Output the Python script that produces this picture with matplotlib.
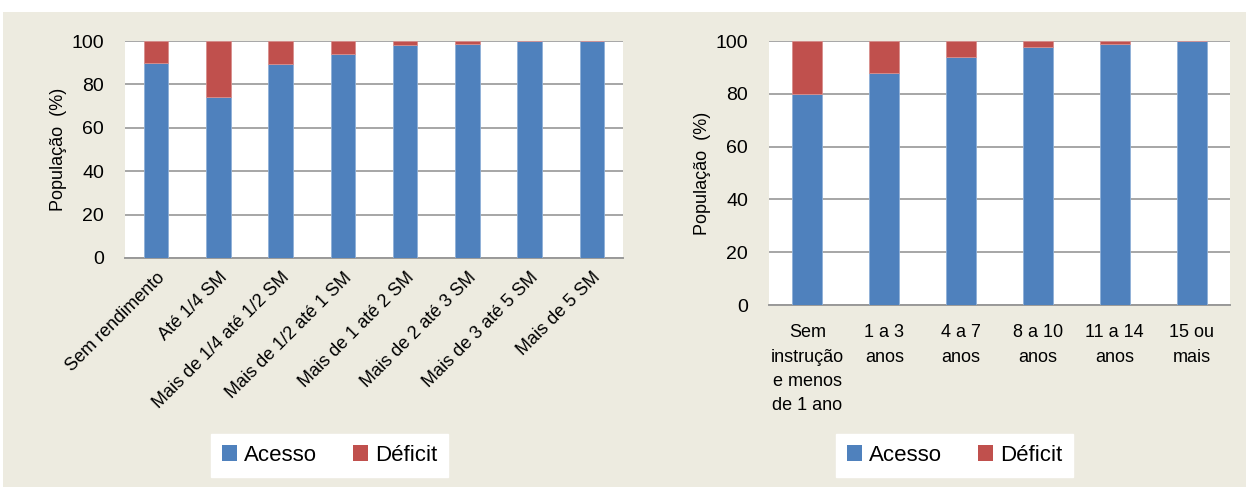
import numpy as np
import matplotlib
matplotlib.use('Agg')
import matplotlib.pyplot as plt
from matplotlib.patches import Rectangle, Patch

# left panel: income classes
renda_labels = ['Sem rendimento', 'Até 1/4 SM', 'Mais de 1/4 até 1/2 SM',
                'Mais de 1/2 até 1 SM', 'Mais de 1 até 2 SM', 'Mais de 2 até 3 SM',
                'Mais de 3 até 5 SM', 'Mais de 5 SM']
renda_acesso = [89.8, 74.0, 89.2, 94.0, 98.0, 98.8, 99.9, 100.0]

# right panel: years of schooling
estudo_labels = ['Sem\ninstrução\ne menos\nde 1 ano', '1 a 3\nanos', '4 a 7\nanos',
                 '8 a 10\nanos', '11 a 14\nanos', '15 ou\nmais']
estudo_acesso = [80.0, 87.8, 93.9, 97.8, 98.9, 99.9]

yticks = [0, 20, 40, 60, 80, 100]

BLUE = '#4F81BD'
RED = '#C0504D'
BG = '#EDEBE0'
FONT = ['Liberation Sans', 'DejaVu Sans']

fig = plt.figure(figsize=(12.46, 4.87), dpi=100)
fig.patches.append(Rectangle((3 / 1246, 0), 1, (487 - 12) / 487,
                             transform=fig.transFigure, facecolor=BG,
                             edgecolor='none', zorder=-10))


def stacked(ax, labels, acesso):
    acesso = np.array(acesso)
    deficit = 100 - acesso
    x = np.arange(len(labels))
    ax.bar(x, acesso, width=0.39, color=BLUE, edgecolor='#8FB0D8', linewidth=0.6,
           zorder=3)
    ax.bar(x, deficit, bottom=acesso, width=0.39, color=RED, edgecolor='#D88F8D',
           linewidth=0.6, zorder=3)
    ax.set_xlim(-0.5, len(labels) - 0.5)
    ax.set_ylim(0, 100)
    ax.set_yticks(yticks)
    ax.set_yticklabels([str(t) for t in yticks], family=FONT, fontsize=14)
    ax.yaxis.grid(True, color='#A6A6A6', linewidth=1.4, zorder=1)
    ax.set_axisbelow(True)
    ax.set_facecolor('white')
    for s in ['left', 'right', 'top']:
        ax.spines[s].set_visible(False)
    ax.spines['bottom'].set_color('#999999')
    ax.spines['bottom'].set_linewidth(1.4)
    ax.tick_params(axis='both', length=0)
    ax.tick_params(axis='y', pad=15)
    ax.set_ylabel('População  (%)', family=FONT, fontsize=13, labelpad=3)
    ax.set_xticks(x)
    return x


ax1 = fig.add_axes([125 / 1246, 229 / 487, 498 / 1246, 217 / 487])
stacked(ax1, renda_labels, renda_acesso)
ax1.set_xticklabels(renda_labels, rotation=45, ha='right', va='top',
                    rotation_mode='anchor', family=FONT, fontsize=13)
ax1.tick_params(axis='x', pad=8)

ax2 = fig.add_axes([769 / 1246, 182 / 487, 461 / 1246, 264 / 487])
stacked(ax2, estudo_labels, estudo_acesso)
ax2.set_xticklabels(estudo_labels, family=FONT, fontsize=13, linespacing=1.55)
ax2.tick_params(axis='x', pad=14)

handles = [Patch(facecolor=BLUE, edgecolor='none', label='Acesso'),
           Patch(facecolor=RED, edgecolor='none', label='Déficit')]
for cx in [329.5 / 1246, 954.5 / 1246]:
    leg = fig.legend(handles=handles, loc='center', bbox_to_anchor=(cx, 31.5 / 487),
                     ncol=2, frameon=True, fancybox=False, framealpha=1,
                     prop={'family': FONT, 'size': 16}, handlelength=0.7,
                     handleheight=0.7, handletextpad=0.3, columnspacing=1.6,
                     borderpad=0.5, borderaxespad=0)
    leg.get_frame().set_facecolor('white')
    leg.get_frame().set_edgecolor('white')

fig.savefig('out.png', dpi=100, facecolor='white')
